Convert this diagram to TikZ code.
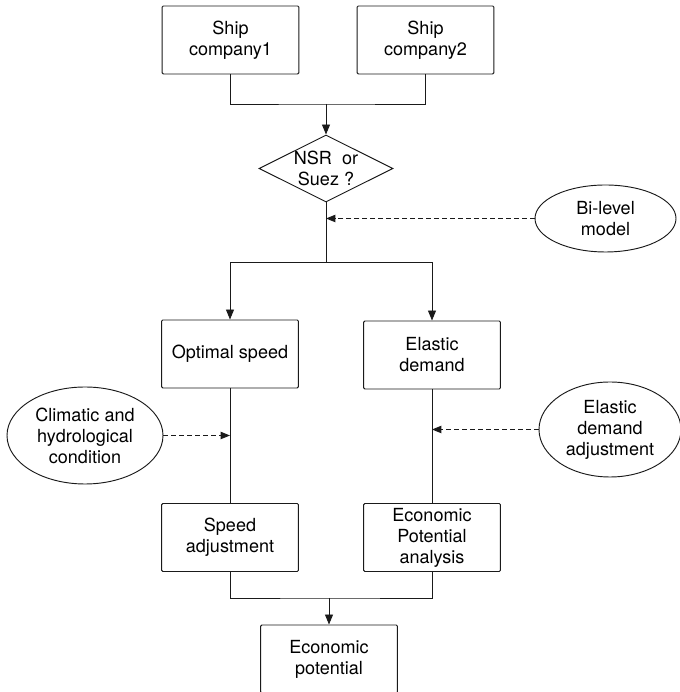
\documentclass[tikz,border=0pt]{standalone}
\usepackage{fontspec}
\setmainfont{TeX Gyre Heros}
\usepackage{tikz}
\usetikzlibrary{arrows.meta,shapes.geometric}
\definecolor{fline}{HTML}{1A1A1A}

\begin{document}
\begin{tikzpicture}[
  font=\fontsize{15.4}{18}\selectfont,
  line width=0.8pt,
  box/.style={draw=fline,rounded corners=1pt,minimum width=4.1cm,
              minimum height=2.04cm,align=center,inner sep=2pt},
  choice/.style={diamond,draw=fline,aspect=2,inner sep=0pt,
                 minimum width=3.96cm,minimum height=2.01cm,align=center},
  aux/.style={ellipse,draw=fline,inner sep=0pt,align=center},
  ln/.style={draw=fline},
  arr/.style={-{Triangle[length=3mm,width=2.4mm]},draw=fline},
  dsh/.style={-{Triangle[length=2.8mm,width=2.2mm]},draw=fline,
              dash pattern=on 4.2pt off 2.6pt}]
\useasboundingbox (0,0) rectangle (20.37,20.76);

% ---------------- companies and route choice ----------------
\node[box] (sc1) at (6.915,19.56) {Ship\\company1};
\node[box] (sc2) at (12.765,19.56) {Ship\\company2};
\node[choice] (rt) at (9.78,15.705) {NSR\ \ or\\Suez ?};
\node[aux,minimum width=4.23cm,minimum height=2.01cm] (blm) at (18.165,14.205)
  {Bi-level\\model};
\coordinate (top) at (9.78,17.64);
\coordinate (spl) at (9.78,12.9);
\draw[ln] (sc1.south) |- (top) -| (sc2.south);
\draw[arr] (top) -- (rt.north);
\draw[ln] (rt.south) -- (spl);
\draw[dsh] (blm.west) -- (blm.west -| rt.south);

% ---------------- two branches ----------------
\node[box] (os) at (6.9,10.14) {Optimal speed};
\node[box] (ed) at (12.96,10.11) {Elastic\\demand};
\draw[arr] (spl) -| (os.north);
\draw[arr] (spl) -| (ed.north);
\node[aux,minimum width=4.68cm,minimum height=2.91cm] (chc) at (2.55,7.695)
  {Climatic and\\hydrological\\condition};
\node[aux,minimum width=4.26cm,minimum height=2.85cm] (eda) at (18.3,7.875)
  {Elastic\\demand\\adjustment};
\node[box] (sa) at (6.9,4.635) {Speed\\adjustment};
\node[box] (epa) at (12.96,4.635) {Economic\\Potential\\analysis};
\draw[ln] (os.south) -- (sa.north);
\draw[ln] (ed.south) -- (epa.north);
\draw[dsh] (chc.east) -- (chc.east -| os.south);
\draw[dsh] (eda.west) -- (eda.west -| ed.south);

% ---------------- result ----------------
\node[box] (ep) at (9.87,0.99) {Economic\\potential};
\coordinate (bot) at (9.87,2.82);
\draw[ln] (sa.south) |- (bot) -| (epa.south);
\draw[arr] (bot) -- (ep.north);
\end{tikzpicture}
\end{document}
